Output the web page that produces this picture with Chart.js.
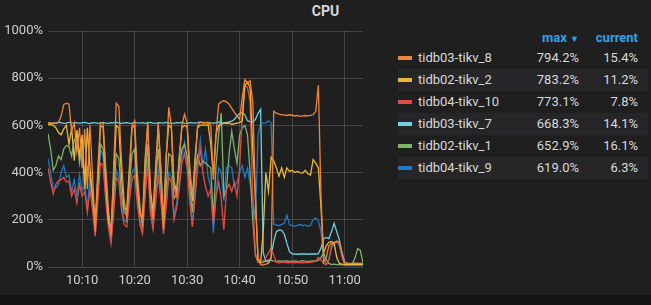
<!DOCTYPE html>
<html>
<head>
<meta charset="utf-8">
<script src="https://cdn.jsdelivr.net/npm/chart.js@4/dist/chart.umd.min.js"></script>
<style>
  html, body { margin: 0; padding: 0; background: #141414; }
  #panel { position: relative; width: 651px; height: 295px; background: #1f1f20; overflow: hidden; font-family: Roboto, sans-serif; }
  #title { position: absolute; left: 0; top: 3px; width: 651px; text-align: center; color: #d8d9da; font-weight: bold; font-size: 14px; }
  #wrap { position: absolute; left: 0; top: 0; width: 370px; height: 295px; }
  #legend { position: absolute; left: 398px; top: 28px; width: 250px; font-size: 13px; color: #d8d9da; }
  .hdr { position: relative; height: 19px; line-height: 19px; color: #33a2e5; font-weight: bold; }
  .row { position: relative; height: 22px; line-height: 22px; }
  .row.alt { background: #262628; }
  .sw { position: absolute; left: 0; top: 9px; width: 14px; height: 4px; }
  .nm { position: absolute; left: 20px; }
  .mx { position: absolute; right: 69px; }
  .cu { position: absolute; right: 10px; }
</style>
</head>
<body>
<div id="panel">
  <div id="title">CPU</div>
  <div id="wrap"><canvas id="cpuChart" width="370" height="295"></canvas></div>
  <div id="legend">
    <div class="hdr"><span class="mx">max <span style="font-size:9px">&#9660;</span></span><span class="cu">current</span></div>
  </div>
</div>
<script>
// sampled every 30s, first sample at 10:03:30
const tikv8 = [
  612, 610, 611, 608, 612, 640, 688, 694, 690, 575,
  610, 490, 590, 420, 585, 330, 600, 380, 150, 420,
  612, 608, 420, 250, 130, 420, 694, 680, 450, 280,
  210, 380, 600, 620, 400, 260, 170, 420, 615, 300,
  200, 380, 610, 420, 160, 450, 676, 600, 340, 300,
  450, 600, 647, 610, 420, 300, 420, 600, 612, 613,
  612, 614, 600, 370, 560, 690, 700, 705, 700, 690,
  672, 655, 640, 625, 720, 794, 780, 790, 700, 300,
  40, 10, 8, 12, 15, 35, 660, 652, 648, 645,
  645, 642, 645, 643, 640, 642, 638, 640, 642, 640,
  642, 645, 660, 770, 300, 20, 40, 90, 100, 102,
  110, 105, 60, 20, 16, 15, 15, 16, 15, 15, 15.4
];
const tikv2 = [
  605, 603, 600, 590, 570, 560, 585, 600, 520, 590,
  450, 580, 470, 560, 350, 590, 420, 300, 180, 380,
  600, 590, 380, 200, 150, 380, 600, 590, 380, 250,
  240, 420, 590, 600, 350, 230, 200, 460, 600, 330,
  230, 420, 600, 400, 190, 470, 600, 590, 360, 320,
  470, 590, 600, 595, 400, 280, 460, 590, 600, 602,
  600, 603, 520, 390, 560, 600, 605, 610, 608, 610,
  605, 607, 610, 612, 620, 770, 783, 760, 500, 300,
  30, 20, 150, 400, 320, 465, 450, 420, 385, 420,
  380, 420, 405, 410, 400, 405, 400, 398, 410, 395,
  390, 455, 440, 420, 250, 60, 90, 105, 108, 100,
  40, 15, 12, 11, 12, 11, 12, 11, 12, 11, 11.2
];
const tikv10 = [
  420, 360, 310, 350, 365, 370, 380, 360, 365, 300,
  330, 270, 350, 300, 320, 230, 330, 240, 130, 280,
  440, 430, 280, 170, 100, 220, 380, 360, 240, 180,
  170, 280, 370, 390, 270, 180, 140, 300, 430, 230,
  160, 270, 390, 280, 140, 250, 380, 360, 200, 250,
  330, 440, 480, 420, 280, 170, 290, 420, 500, 400,
  340, 300, 330, 180, 300, 360, 290, 157, 330, 350,
  320, 360, 300, 420, 650, 773, 760, 700, 300, 60,
  20, 18, 25, 40, 60, 80, 50, 20, 18, 20,
  20, 18, 19, 20, 18, 20, 19, 18, 20, 19,
  20, 22, 25, 40, 30, 15, 10, 30, 90, 105,
  106, 100, 50, 12, 8, 8, 8, 8, 8, 8, 7.8
];
const tikv7 = [
  612, 610, 608, 611, 613, 612, 609, 610, 614, 611,
  610, 612, 609, 611, 613, 610, 608, 612, 611, 609,
  611, 613, 610, 609, 612, 611, 614, 610, 609, 611,
  612, 610, 609, 613, 611, 610, 612, 609, 611, 613,
  610, 609, 612, 611, 610, 613, 611, 609, 610, 612,
  611, 613, 610, 609, 612, 611, 610, 612, 615, 611,
  610, 612, 611, 609, 612, 614, 611, 610, 613, 615,
  618, 625, 640, 650, 655, 645, 620, 615, 615, 625,
  650, 668.3, 60, 25, 20, 40, 110, 150, 157, 155,
  140, 100, 65, 56, 55, 54, 55, 56, 55, 54,
  55, 56, 55, 57, 80, 120, 125, 120, 150, 185,
  150, 115, 60, 20, 15, 14, 15, 14, 15, 14, 14.1
];
const tikv1 = [
  565, 500, 410, 430, 470, 455, 500, 515, 510, 470,
  540, 550, 440, 520, 330, 420, 380, 300, 190, 350,
  520, 500, 330, 220, 150, 300, 480, 460, 300, 230,
  220, 350, 480, 500, 330, 230, 190, 380, 520, 290,
  210, 360, 500, 350, 180, 330, 480, 470, 290, 310,
  420, 500, 520, 470, 340, 230, 400, 470, 430, 450,
  440, 430, 420, 200, 430, 560, 652.9, 300, 330, 480,
  575, 500, 440, 560, 590, 600, 560, 400, 200, 50,
  20, 18, 20, 25, 30, 28, 25, 24, 26, 25,
  25, 26, 24, 25, 26, 24, 25, 27, 25, 24,
  25, 26, 25, 28, 40, 60, 30, 15, 10, 12,
  10, 10, 9, 10, 10, 10, 15, 40, 78, 70, 16.1
];
const tikv9 = [
  460, 400, 330, 335, 350, 400, 430, 380, 390, 320,
  370, 300, 390, 320, 350, 250, 380, 250, 140, 320,
  500, 470, 300, 180, 110, 250, 410, 380, 260, 200,
  190, 300, 400, 420, 300, 200, 150, 320, 460, 250,
  170, 300, 410, 300, 150, 280, 400, 380, 220, 270,
  350, 470, 527, 450, 300, 180, 310, 450, 540, 430,
  500, 380, 340, 145, 300, 420, 400, 280, 420, 430,
  420, 340, 360, 400, 430, 380, 420, 350, 300, 200,
  560, 605, 612, 610, 619, 612, 180, 178, 175, 180,
  185, 220, 178, 176, 172, 176, 180, 175, 178, 172,
  176, 200, 208, 195, 150, 40, 10, 30, 80, 100,
  105, 90, 40, 10, 6, 6, 7, 6, 6, 6, 6.3
];

const seriesNames = ['tidb03-tikv_8', 'tidb02-tikv_2', 'tidb04-tikv_10', 'tidb03-tikv_7', 'tidb02-tikv_1', 'tidb04-tikv_9'];
const seriesColors = ['#EF843C', '#EAB839', '#E24D42', '#6ED0E0', '#7EB26D', '#1F78C1'];
const legendMax = ['794.2%', '783.2%', '773.1%', '668.3%', '652.9%', '619.0%'];
const legendCurrent = ['15.4%', '11.2%', '7.8%', '14.1%', '16.1%', '6.3%'];
const xTickValues = [10, 20, 30, 40, 50, 60];
const xTickLabels = ['10:10', '10:20', '10:30', '10:40', '10:50', '11:00'];
const yTicks = [0, 200, 400, 600, 800, 1000];

const allSeries = [tikv8, tikv2, tikv10, tikv7, tikv1, tikv9];
// minutes after 10:00 for each sample
const minutes = tikv8.map(function (_, i) { return 3.5 + i * 0.5; });

const legend = document.getElementById('legend');
seriesNames.forEach(function (name, i) {
  const row = document.createElement('div');
  row.className = 'row' + (i % 2 === 1 ? ' alt' : '');
  row.innerHTML = '<span class="sw" style="background:' + seriesColors[i] + '"></span>' +
    '<span class="nm">' + name + '</span><span class="mx">' + legendMax[i] + '</span><span class="cu">' + legendCurrent[i] + '</span>';
  legend.appendChild(row);
});

const gridColor = 'rgba(255,255,255,0.17)';
const tickColor = '#cfcfcf';

new Chart(document.getElementById('cpuChart').getContext('2d'), {
  type: 'line',
  data: {
    datasets: allSeries.map(function (vals, i) {
      return {
        label: seriesNames[i],
        data: vals.map(function (v, j) { return { x: minutes[j], y: v }; }),
        borderColor: seriesColors[i],
        borderWidth: 1.3,
        pointRadius: 0,
        tension: 0,
        fill: false
      };
    })
  },
  options: {
    responsive: false,
    animation: false,
    layout: { padding: { top: 31, right: 7, left: 0, bottom: 0 } },
    plugins: { legend: { display: false }, tooltip: { enabled: false } },
    scales: {
      x: {
        type: 'linear', min: 3.5, max: 63.5,
        afterBuildTicks: function (s) { s.ticks = xTickValues.map(function (v) { return { value: v }; }); },
        afterFit: function (s) { s.height = 28; },
        ticks: {
          color: tickColor, font: { family: 'Roboto', size: 13 }, padding: 6, maxRotation: 0, autoSkip: false,
          callback: function (v) { return xTickLabels[xTickValues.indexOf(v)]; }
        },
        grid: { color: gridColor, drawTicks: false },
        border: { display: false }
      },
      y: {
        min: 0, max: 1000,
        afterBuildTicks: function (s) { s.ticks = yTicks.map(function (v) { return { value: v }; }); },
        afterFit: function (s) { s.width = 48; },
        ticks: {
          color: tickColor, font: { family: 'Roboto', size: 13 }, padding: 5,
          callback: function (v) { return v + '%'; }
        },
        grid: { color: gridColor, drawTicks: false },
        border: { display: false }
      }
    }
  }
});
</script>
</body>
</html>
